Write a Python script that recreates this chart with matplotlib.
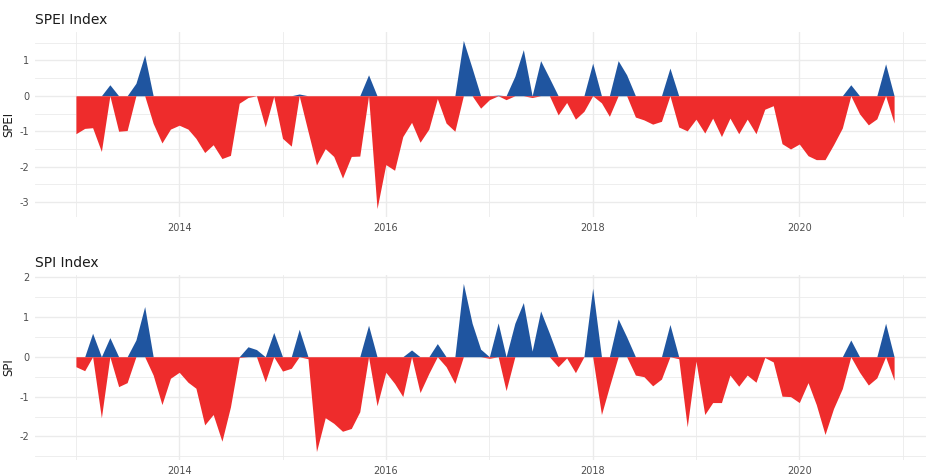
import numpy as np
import pandas as pd
import matplotlib
matplotlib.use("Agg")
import matplotlib.pyplot as plt
import matplotlib.dates as mdates
from matplotlib.ticker import MultipleLocator

# Monthly index values, Jan 2013 - Dec 2020
months = pd.date_range("2013-01-01", "2020-12-01", freq="MS")

spei = [-1.07, -0.92, -0.90, -1.57, 0.31, -1.00, -0.98, 0.35, 1.15, -0.78, -1.33, -0.94,
        -0.83, -0.94, -1.20, -1.60, -1.38, -1.77, -1.68, -0.21, -0.05, 0.00, -0.88, -0.02,
        -1.20, -1.42, 0.05, -1.00, -1.95, -1.49, -1.71, -2.32, -1.71, -1.70, 0.59, -3.18,
        -1.94, -2.10, -1.15, -0.75, -1.31, -0.94, -0.08, -0.77, -1.00, 1.56, 0.78, -0.35,
        -0.11, 0.02, -0.11, 0.55, 1.30, -0.05, 0.99, 0.50, -0.54, -0.19, -0.66, -0.44,
        0.92, -0.20, -0.58, 0.99, 0.59, -0.60, -0.68, -0.80, -0.72, 0.78, -0.88, -0.99,
        -0.66, -1.05, -0.63, -1.15, -0.63, -1.07, -0.66, -1.07, -0.38, -0.28, -1.35, -1.50,
        -1.36, -1.69, -1.80, -1.80, -1.38, -0.91, 0.31, -0.51, -0.82, -0.65, 0.90, -0.77]

spi = [-0.25, -0.35, 0.59, -1.53, 0.48, -0.75, -0.65, 0.42, 1.26, -0.46, -1.20, -0.54,
       -0.39, -0.64, -0.79, -1.71, -1.45, -2.12, -1.26, -0.02, 0.25, 0.18, -0.63, 0.61,
       -0.36, -0.29, 0.69, -0.05, -2.38, -1.53, -1.67, -1.87, -1.80, -1.38, 0.79, -1.23,
       -0.39, -0.67, -1.00, 0.17, -0.90, -0.42, 0.33, -0.25, -0.67, 1.84, 0.84, 0.19,
       -0.04, 0.85, -0.85, 0.84, 1.36, 0.14, 1.15, 0.59, -0.25, -0.03, -0.40, 0.00,
       1.72, -1.45, -0.75, 0.95, 0.50, -0.46, -0.50, -0.73, -0.56, 0.81, -0.05, -1.76,
       -0.11, -1.45, -1.15, -1.15, -0.46, -0.74, -0.46, -0.64, -0.02, -0.13, -0.99, -1.00,
       -1.15, -0.65, -1.20, -1.95, -1.30, -0.80, 0.42, -0.39, -0.71, -0.53, 0.84, -0.59]

BLUE = "#1F55A0"
RED = "#EE2C2C"
GRID = "#EBEBEB"

fig = plt.figure(figsize=(9.26, 4.75), dpi=100)
W, H = 926, 475

def panel(rect, vals, title, ylabel):
    left, top, right, bottom = rect
    ax = fig.add_axes([left / W, 1 - bottom / H, (right - left) / W, (bottom - top) / H])
    v = np.array(vals)
    x = mdates.date2num(months)
    ax.fill_between(x, 0, np.maximum(v, 0), color=BLUE, lw=0)
    ax.fill_between(x, 0, np.minimum(v, 0), color=RED, lw=0)

    # ggplot-like 5% expansion
    span = x[-1] - x[0]
    ax.set_xlim(x[0] - 0.05 * span, x[-1] + 0.05 * span)
    yr = v.max() - v.min()
    ax.set_ylim(v.min() - 0.05 * yr, v.max() + 0.05 * yr)

    ax.xaxis.set_major_locator(mdates.YearLocator(2))
    ax.xaxis.set_major_formatter(mdates.DateFormatter("%Y"))
    ax.xaxis.set_minor_locator(mdates.YearLocator(1))
    ax.yaxis.set_major_locator(MultipleLocator(1))
    ax.yaxis.set_minor_locator(MultipleLocator(0.5))
    ax.yaxis.set_major_formatter(plt.FuncFormatter(lambda t, p: f"{t:.0f}".replace("-0", "0") if t == 0 else f"{t:.0f}"))

    ax.grid(which="major", color=GRID, lw=1.0)
    ax.grid(which="minor", color=GRID, lw=0.6)
    ax.set_axisbelow(True)
    for s in ax.spines.values():
        s.set_visible(False)
    ax.tick_params(which="both", length=0, labelsize=7, labelcolor="#4D4D4D", pad=4)
    ax.set_ylabel(ylabel, fontsize=8.5, color="#1A1A1A", labelpad=3)
    ax.set_title(title, loc="left", fontsize=10, color="#1A1A1A", pad=6)
    return ax

panel((35, 32, 935, 217), spei, "SPEI Index", "SPEI")
panel((35, 275, 935, 460), spi, "SPI Index", "SPI")

fig.savefig("out.png", dpi=100)
